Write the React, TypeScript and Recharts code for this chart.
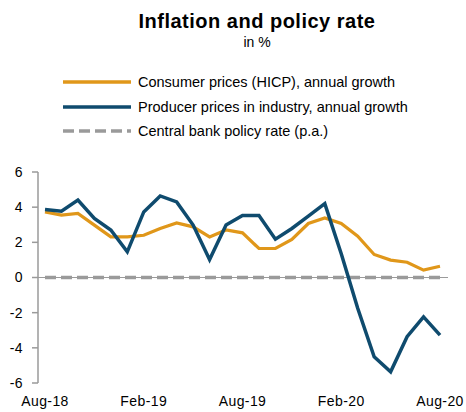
import { LineChart, Line, XAxis, YAxis, ReferenceLine } from "recharts";

// ── Data ───────────────────────────────────────────────────────────────────

const months = [
  "Aug-18", "Sep-18", "Oct-18", "Nov-18", "Dec-18",
  "Jan-19", "Feb-19", "Mar-19", "Apr-19", "May-19", "Jun-19", "Jul-19",
  "Aug-19", "Sep-19", "Oct-19", "Nov-19", "Dec-19",
  "Jan-20", "Feb-20", "Mar-20", "Apr-20", "May-20", "Jun-20", "Jul-20", "Aug-20",
];

const hicp = [
  3.73, 3.55, 3.64, 2.98, 2.31, 2.31, 2.4, 2.79, 3.1, 2.88, 2.31, 2.7,
  2.54, 1.65, 1.65, 2.16, 3.07, 3.39, 3.07, 2.35, 1.31, 0.99, 0.87, 0.42, 0.64,
];

const ppi = [
  3.87, 3.77, 4.4, 3.36, 2.7, 1.46, 3.73, 4.64, 4.3, 2.98, 1.02, 2.98,
  3.52, 3.52, 2.18, 2.79, 3.49, 4.2, 1.35, -1.75, -4.51, -5.36, -3.37, -2.24, -3.28,
];

const policyRate = [
  0, 0, 0, 0, 0, 0, 0, 0, 0, 0, 0, 0,
  0, 0, 0, 0, 0, 0, 0, 0, 0, 0, 0, 0, 0,
];

const yTicks = [-6, -4, -2, 0, 2, 4, 6];

const data = months.map((m, i) => ({
  month: m,
  hicp: hicp[i],
  ppi: ppi[i],
  rate: policyRate[i],
}));

// ── Styles ─────────────────────────────────────────────────────────────────

const ORANGE = "#E0971A";
const BLUE = "#0F4B6E";
const GREY = "#9A9A9A";
const FONT = "'Liberation Sans', Arial, sans-serif";

const legendItems = [
  { label: "Consumer prices (HICP), annual growth", color: ORANGE, dash: undefined },
  { label: "Producer prices in industry, annual growth", color: BLUE, dash: undefined },
  { label: "Central bank policy rate (p.a.)", color: GREY, dash: "11 5" },
];

const tickStyle = { fontSize: 14, fill: "#000", fontFamily: FONT, letterSpacing: 0.4 };

export default function App() {
  return (
    <div style={{ position: "absolute", left: 0, top: 0, width: 466, height: 412, fontFamily: FONT, background: "#fff" }}>
      <div style={{ position: "absolute", left: 0, width: 514, top: 10, textAlign: "center", fontSize: 20, fontWeight: "bold", letterSpacing: 0.5, color: "#000" }}>
        Inflation and policy rate
      </div>
      <div style={{ position: "absolute", left: 0, width: 514, top: 34, textAlign: "center", fontSize: 14, color: "#000" }}>
        in %
      </div>

      {legendItems.map((item, i) => (
        <div key={item.label} style={{ position: "absolute", left: 63, top: 73 + i * 24.5, height: 18, display: "flex", alignItems: "center" }}>
          <svg width={68} height={6}>
            <line x1={0} y1={3} x2={68} y2={3} stroke={item.color} strokeWidth={3.5} strokeDasharray={item.dash} />
          </svg>
          <span style={{ marginLeft: 7, fontSize: 14.5, color: "#000", whiteSpace: "nowrap" }}>{item.label}</span>
        </div>
      ))}

      <div style={{ position: "absolute", left: 0, top: 0 }}>
        <LineChart width={466} height={412} data={data} margin={{ top: 172, right: 18, bottom: 0, left: 0 }}>
          <XAxis
            dataKey="month"
            interval={5}
            axisLine={false}
            tickLine={false}
            height={29}
            tickMargin={7}
            padding={{ left: 7, right: 8 }}
            tick={tickStyle}
          />
          <YAxis
            domain={[-6, 6]}
            ticks={yTicks}
            width={38}
            tickSize={6}
            tickMargin={9}
            axisLine={{ stroke: GREY, strokeWidth: 1.5 }}
            tickLine={{ stroke: GREY, strokeWidth: 1.5 }}
            tick={tickStyle}
          />
          <Line dataKey="rate" stroke={GREY} strokeWidth={3.5} strokeDasharray="11 5" dot={false} isAnimationActive={false} />
          <ReferenceLine y={0} stroke={GREY} strokeWidth={1.2} />
          <Line dataKey="hicp" stroke={ORANGE} strokeWidth={3.2} dot={false} isAnimationActive={false} />
          <Line dataKey="ppi" stroke={BLUE} strokeWidth={3.5} dot={false} isAnimationActive={false} />
        </LineChart>
      </div>
    </div>
  );
}
